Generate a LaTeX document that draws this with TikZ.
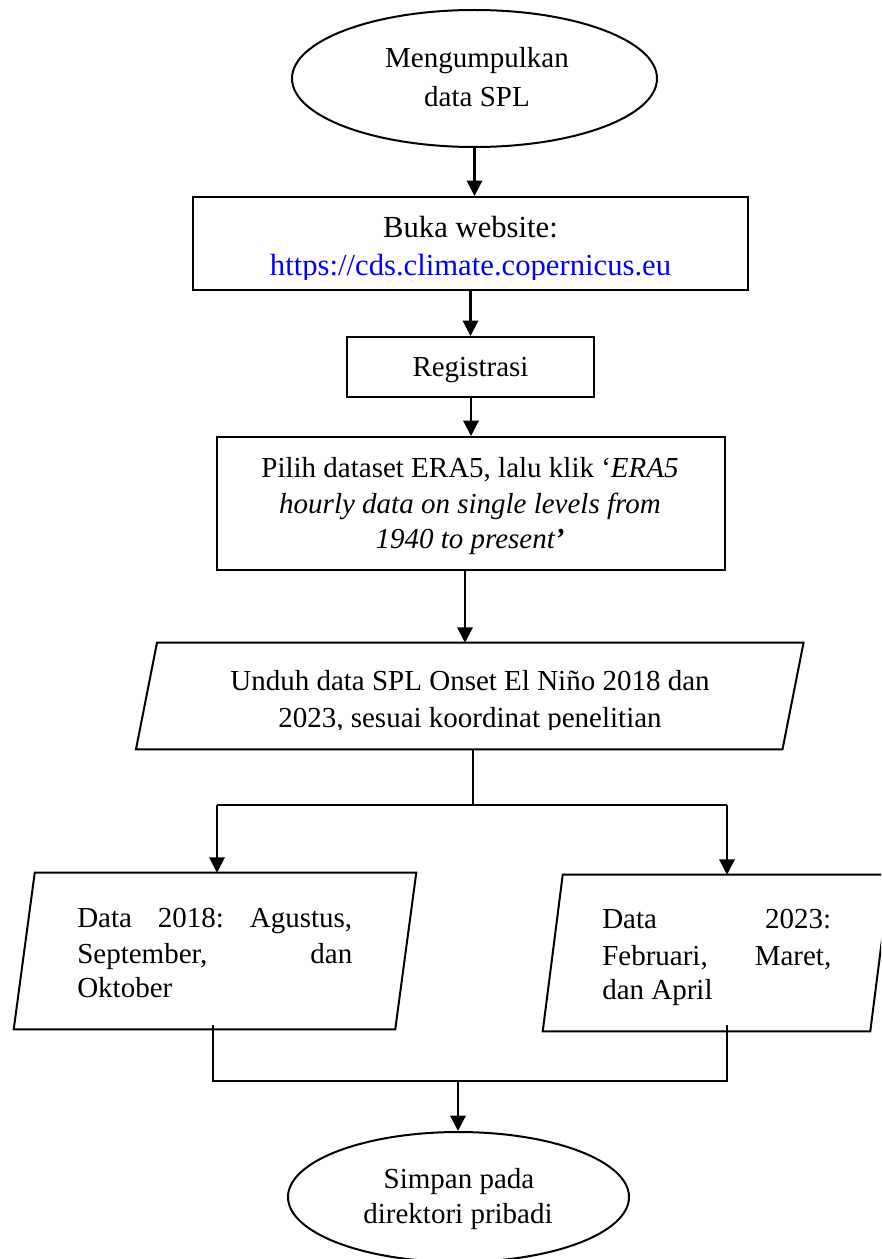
\documentclass[tikz,border=0pt]{standalone}
\usepackage{fontspec}
\setmainfont{Liberation Serif}
\usetikzlibrary{shapes.geometric,arrows.meta}
\definecolor{urlblue}{RGB}{0,0,255}

\begin{document}
\begin{tikzpicture}[x=0.75pt,y=-0.75pt,
  shapeline/.style={draw=black, line width=1.5pt},
  terminal/.style={shapeline, ellipse, inner sep=0pt},
  stepbox/.style={shapeline, rectangle, inner sep=0pt},
  slot/.style={rectangle, inner sep=0pt},
  flow/.style={line width=1.55pt, -{Triangle[width=11.5pt,length=11.5pt]}},
  joint/.style={line width=1.55pt},
  thinjoint/.style={line width=0.8pt},
  txt/.style={anchor=base, inner sep=0pt, font=\fontsize{21.75}{27}\selectfont},
  bigtxt/.style={txt, font=\fontsize{23}{28}\selectfont},
  ]
  \clip (0,0) rectangle (881,1259);

  % ---- shapes ----
  \node[terminal, minimum width=273.75pt, minimum height=102.75pt] (start) at (474.5,78.5) {};
  \node[stepbox, minimum width=416.6pt, minimum height=69.75pt] (buka) at (470.25,243.5) {};
  \node[stepbox, minimum width=185.25pt, minimum height=45pt] (reg) at (470.5,367) {};
  \node[stepbox, minimum width=381pt, minimum height=99.75pt] (pilih) at (471,503.5) {};
  \node[slot, minimum width=484.5pt, minimum height=79.5pt] (unduh) at (469.75,696) {};
  \node[slot, minimum width=285.75pt, minimum height=117pt] (left) at (215,951) {};
  \node[slot, minimum width=245.25pt, minimum height=117pt] (right) at (716.5,953) {};
  \node[terminal, minimum width=255.75pt, minimum height=97.5pt] (stop) at (458.5,1197) {};

  % parallelogram outlines of the data steps
  \draw[shapeline] ([xshift=7.875pt]unduh.north west) -- ([xshift=7.875pt]unduh.north east)
    -- ([xshift=-7.875pt]unduh.south east) -- ([xshift=-7.875pt]unduh.south west) -- cycle;
  \draw[shapeline] ([xshift=7.875pt]left.north west) -- ([xshift=7.875pt]left.north east)
    -- ([xshift=-7.875pt]left.south east) -- ([xshift=-7.875pt]left.south west) -- cycle;
  \draw[shapeline] ([xshift=7.5pt]right.north west) -- ([xshift=7.5pt]right.north east)
    -- ([xshift=-7.5pt]right.south east) -- ([xshift=-7.5pt]right.south west) -- cycle;

  % ---- texts ----
  \node[txt] (startA) at (477,68) {Mengumpulkan};
  \node[txt] (startB) at (477,107) {data SPL};

  \node[bigtxt] (bukaA) at (470.5,237) {Buka website:};
  \begin{scope}
    \clip (192,245) rectangle (748,279);
    \node[bigtxt, text=urlblue] (bukaB) at (470.5,275) {https://cds.climate.copernicus.eu};
  \end{scope}

  \node[txt] (regA) at (470.5,376) {Registrasi};

  \node[txt] (pilihA) at (470,477) {Pilih dataset ERA5, lalu klik ‘\textit{ERA5}};
  \node[txt] (pilihB) at (470,513) {\itshape hourly data on single levels from};
  \node[txt] (pilihC) at (470,548) {\itshape 1940 to present\textbf{’}};

  \node[txt] (unduhA) at (470,690) {Unduh data SPL Onset El Niño 2018 dan};
  \begin{scope}
    \clip (140,700) rectangle (800,729);
    \node[txt] (unduhB) at (470,727) {2023, sesuai koordinat penelitian};
  \end{scope}

  \node[txt, anchor=base west] (leftA) at (77,927) {\hbox to 206.25pt{Data\hfill 2018:\hfill Agustus,}};
  \node[txt, anchor=base west] (leftB) at (77,963) {\hbox to 206.25pt{September,\hfill dan}};
  \node[txt, anchor=base west] (leftC) at (77,997) {Oktober};

  \node[txt, anchor=base west] (rightA) at (602,928) {\hbox to 171.75pt{Data\hfill 2023:}};
  \node[txt, anchor=base west] (rightB) at (602,965) {\hbox to 171.75pt{Februari,\hfill Maret,}};
  \node[txt, anchor=base west] (rightC) at (602,999) {dan April};

  \node[txt] (stopA) at (459,1188) {Simpan pada};
  \node[txt] (stopB) at (458,1223) {direktori pribadi};

  % ---- connectors ----
  \coordinate (a4) at (465,0);
  \coordinate (split) at (473,805);
  \coordinate (bl) at (217,805);
  \coordinate (br) at (727,805);
  \coordinate (mlt) at (213,1025);
  \coordinate (ml) at (213,1081);
  \coordinate (mrt) at (727,1025);
  \coordinate (mr) at (727,1081);
  \coordinate (mid) at (458,1081);

  \draw[flow] (start.south) -- (start.south |- buka.north);
  \draw[flow] (reg.north |- buka.south) -- (reg.north);
  \draw[flow] (pilih.north |- reg.south) -- (pilih.north);
  \draw[flow] (pilih.south -| a4) -- (unduh.north -| a4);

  \draw[joint] (unduh.south -| split) -- (split);
  \draw[thinjoint] (bl) -- (br);
  \draw[flow] (bl) -- (bl |- left.north);
  \draw[flow] (br) -- (br |- right.north);

  \draw[thinjoint] (mlt) -- (ml) -- (mr) -- (mrt);
  \draw[flow] (mid) -- (mid |- stop.north);
\end{tikzpicture}
\end{document}
